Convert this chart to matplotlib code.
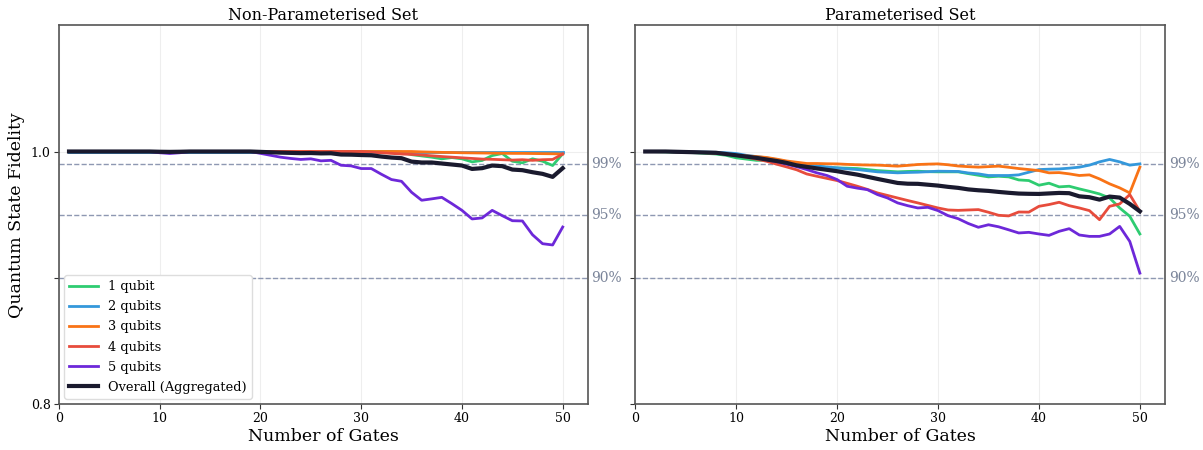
import matplotlib
matplotlib.use("Agg")
import matplotlib.pyplot as plt

plt.rcParams["font.family"] = ["DejaVu Serif"]

gates = list(range(1, 51))
series_labels = ["1 qubit", "2 qubits", "3 qubits", "4 qubits", "5 qubits"]
series_colors = ["#2ecc71", "#3498db", "#f97316", "#e74c3c", "#6d28d9"]
overall_color = "#1a1a2e"
panel_titles = ["Non-Parameterised Set", "Parameterised Set"]
thresholds = [0.99, 0.95, 0.90]
threshold_labels = ["99%", "95%", "90%"]

# Non-parameterised set
np_q1 = [1.0] * 33 + [0.9995, 0.9975, 0.9965, 0.9955, 0.9942, 0.9952, 0.9942, 0.9918, 0.9929,
                      0.9968, 0.9984, 0.9923, 0.991, 0.9942, 0.9923, 0.9889, 0.9982]
np_q2 = [1.0] * 50
np_q3 = [1.0] * 35 + [0.9997, 0.9995, 0.9993, 0.9992, 0.999, 0.9989, 0.9988, 0.9987, 0.9986,
                      0.9985, 0.9985, 0.9984, 0.9983, 0.9982, 0.998]
np_q4 = [1.0] * 30 + [0.9995, 0.999, 0.9985, 0.998, 0.9977, 0.9972, 0.9966, 0.996, 0.9955, 0.995,
                      0.9945, 0.994, 0.9938, 0.9935, 0.9932, 0.9935, 0.993, 0.9935, 0.9937, 0.998]
np_q5 = [1.0, 1.0, 1.0, 1.0, 1.0, 1.0, 1.0, 1.0, 1.0, 0.999,
         0.9984, 0.999, 1.0, 1.0, 1.0, 1.0, 1.0, 1.0, 1.0, 0.9985,
         0.997, 0.9955, 0.9945, 0.9937, 0.9942, 0.9926, 0.993, 0.9891, 0.9886, 0.9865,
         0.9865, 0.982, 0.9778, 0.9764, 0.9677, 0.9614, 0.9625, 0.9637, 0.9587, 0.9534,
         0.9466, 0.9474, 0.9534, 0.9492, 0.9452, 0.945, 0.9341, 0.927, 0.926, 0.9402]
np_all = [1.0, 1.0, 1.0, 1.0, 1.0, 1.0, 1.0, 1.0, 1.0, 0.9998,
          0.9997, 0.9998, 1.0, 1.0, 1.0, 1.0, 1.0, 1.0, 1.0, 0.9997,
          0.9994, 0.9991, 0.9989, 0.9987, 0.9988, 0.9985, 0.9986, 0.9976, 0.9975, 0.9972,
          0.997, 0.996, 0.9952, 0.9947, 0.992, 0.9913, 0.9913, 0.9905, 0.9897, 0.9889,
          0.9862, 0.9868, 0.9889, 0.9884, 0.9857, 0.9852, 0.9836, 0.9823, 0.9799, 0.9868]

# Parameterised set
p_q1 = [1.0, 0.9999, 0.9997, 0.9995, 0.9993, 0.999, 0.9985, 0.998, 0.997, 0.995,
        0.994, 0.993, 0.993, 0.992, 0.991, 0.9895, 0.9885, 0.988, 0.9875, 0.987,
        0.9868, 0.9865, 0.9857, 0.9849, 0.9844, 0.9839, 0.9842, 0.9844, 0.984, 0.9839,
        0.9839, 0.9839, 0.9825, 0.9812, 0.9799, 0.9804, 0.9799, 0.9775, 0.977, 0.9733,
        0.9749, 0.972, 0.9725, 0.9704, 0.9685, 0.9664, 0.9632, 0.9553, 0.9487, 0.9347]
p_q2 = [1.0, 1.0, 1.0, 0.9998, 0.9997, 0.9996, 0.9995, 0.9993, 0.999, 0.9984,
        0.997, 0.996, 0.995, 0.9935, 0.992, 0.9905, 0.9895, 0.9885, 0.9877, 0.987,
        0.9863, 0.9857, 0.9848, 0.9839, 0.9835, 0.9831, 0.9834, 0.9836, 0.984, 0.9844,
        0.9843, 0.9842, 0.983, 0.9823, 0.981, 0.981, 0.981, 0.9815, 0.9836, 0.9857,
        0.986, 0.9862, 0.9868, 0.9876, 0.9892, 0.9918, 0.9937, 0.9918, 0.9892, 0.9902]
p_q3 = [1.0, 1.0, 1.0, 0.9998, 0.9996, 0.9994, 0.9992, 0.999, 0.998, 0.997,
        0.9965, 0.996, 0.9953, 0.994, 0.9925, 0.9915, 0.9905, 0.9905, 0.9903, 0.9902,
        0.9898, 0.9895, 0.9893, 0.9892, 0.9888, 0.9884, 0.989, 0.9897, 0.99, 0.9902,
        0.9895, 0.9885, 0.988, 0.9876, 0.988, 0.9884, 0.9875, 0.9865, 0.9857, 0.9849,
        0.9831, 0.9833, 0.9823, 0.981, 0.9815, 0.9783, 0.9744, 0.9712, 0.9672, 0.9876]
p_q4 = [1.0, 1.0, 1.0, 0.9998, 0.9996, 0.9993, 0.999, 0.9986, 0.998, 0.997,
        0.9955, 0.994, 0.9923, 0.99, 0.9878, 0.9855, 0.9822, 0.9804, 0.9787, 0.977,
        0.9748, 0.9725, 0.97, 0.9672, 0.9652, 0.9632, 0.9612, 0.9593, 0.9573, 0.9553,
        0.9537, 0.9534, 0.9537, 0.954, 0.9519, 0.9495, 0.949, 0.9521, 0.952, 0.9566,
        0.958, 0.9598, 0.9571, 0.9553, 0.9532, 0.946, 0.9566, 0.9585, 0.9659, 0.9526]
p_q5 = [1.0, 1.0, 1.0, 0.9998, 0.9996, 0.9994, 0.9992, 0.999, 0.998, 0.997,
        0.996, 0.995, 0.9935, 0.992, 0.99, 0.988, 0.9857, 0.9831, 0.981, 0.9778,
        0.9725, 0.971, 0.9698, 0.9659, 0.9632, 0.9593, 0.9571, 0.9553, 0.9558, 0.9532,
        0.9492, 0.9468, 0.943, 0.94, 0.942, 0.9404, 0.938, 0.9355, 0.936, 0.9347,
        0.9336, 0.9368, 0.9389, 0.9339, 0.9328, 0.9328, 0.9347, 0.9407, 0.9288, 0.9037]
p_all = [1.0, 1.0, 1.0, 0.9998, 0.9996, 0.9994, 0.9992, 0.999, 0.998, 0.997,
         0.996, 0.995, 0.9937, 0.9925, 0.991, 0.989, 0.9878, 0.9866, 0.9855, 0.9844,
         0.983, 0.9817, 0.98, 0.9783, 0.9767, 0.9751, 0.9745, 0.9744, 0.9737, 0.973,
         0.972, 0.9712, 0.97, 0.9693, 0.9688, 0.968, 0.9673, 0.9667, 0.9665, 0.9664,
         0.9668, 0.9672, 0.967, 0.9645, 0.9638, 0.9619, 0.9643, 0.9635, 0.9585, 0.9526]

panels = [
    ([np_q1, np_q2, np_q3, np_q4, np_q5], np_all),
    ([p_q1, p_q2, p_q3, p_q4, p_q5], p_all),
]

fig = plt.figure(figsize=(12.03, 4.5), dpi=100)
ax1 = fig.add_axes([0.049, 0.102, 0.4397, 0.842])
ax2 = fig.add_axes([0.528, 0.102, 0.4405, 0.842], sharey=ax1)

for ax, title, (qubit_series, overall) in zip([ax1, ax2], panel_titles, panels):
    for vals, lab, col in zip(qubit_series, series_labels, series_colors):
        ax.plot(gates, vals, color=col, lw=2, label=lab, zorder=3)
    ax.plot(gates, overall, color=overall_color, lw=3, label="Overall (Aggregated)", zorder=4)

    for t, tl in zip(thresholds, threshold_labels):
        ax.axhline(t, color="#8e98b2", ls="--", lw=1, zorder=1)
        ax.text(1.007, t, tl, transform=ax.get_yaxis_transform(), color="#7a8499",
                fontsize=10, va="center", ha="left", clip_on=False)

    ax.set_xlim(0, 52.5)
    ax.set_ylim(0.8, 1.1)
    ax.set_xticks([0, 10, 20, 30, 40, 50])
    ax.set_yticks([0.8, 0.9, 1.0])
    ax.grid(True, color="#eeeeee", lw=0.8)
    ax.set_axisbelow(True)
    ax.set_title(title, fontsize=11.5, pad=4)
    ax.set_xlabel("Number of Gates", fontsize=12.5, labelpad=2)
    ax.tick_params(labelsize=9, color="#333333", pad=2.5)
    for sp in ax.spines.values():
        sp.set_color("#555555")
        sp.set_linewidth(1.2)

ax1.set_yticklabels(["0.8", "", "1.0"])
ax1.set_ylabel("Quantum State Fidelity", fontsize=12.5)
ax2.tick_params(labelleft=False)

ax1.legend(loc="lower left", fontsize=9.3, framealpha=1, edgecolor="#dddddd",
           borderaxespad=0.4, handlelength=2.2, labelspacing=0.55)

fig.savefig("out.png", dpi=100)
